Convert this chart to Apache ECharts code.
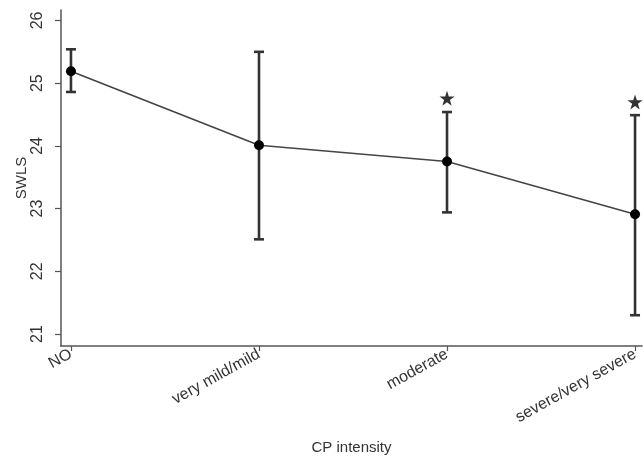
<!DOCTYPE html>
<html><head><meta charset="utf-8">
<script src="https://cdn.jsdelivr.net/npm/echarts@6/dist/echarts.min.js"></script>
<style>html,body{margin:0;padding:0;background:#fff}#c{width:644px;height:461px}</style>
</head><body><div id="c"></div>
<script>
const categories = ['NO', 'very mild/mild', 'moderate', 'severe/very severe'];
const means = [25.19, 24.01, 23.75, 22.91];
const lower = [24.86, 22.51, 22.94, 21.30];
const upper = [25.54, 25.50, 24.54, 24.49];
const starIdx = [2, 3];
const starY = [24.76, 24.70];
const yTicks = [21, 22, 23, 24, 25, 26];
const xTicks = [0, 1, 2, 3];

const font = 'Liberation Sans, Arial, Helvetica, sans-serif';
const starPath = 'path://M50,0 L61.8,35.3 L99,35.3 L69,57.1 L80.4,92.7 L50,70.7 L19.6,92.7 L31,57.1 L1,35.3 L38.2,35.3 Z';

const chart = echarts.init(document.getElementById('c'), null, {renderer: 'canvas'});
chart.setOption({
  animation: false,
  backgroundColor: '#fff',
  grid: {left: 61, right: 2, top: 10, bottom: 115},
  xAxis: {
    type: 'value', min: -0.053, max: 3.037,
    name: 'CP intensity', nameLocation: 'middle', nameGap: 94, nameMoveOverlap: false,
    nameTextStyle: {fontFamily: font, fontSize: 15, color: '#333'},
    axisLine: {show: true, onZero: false, lineStyle: {color: '#555', width: 1.5}},
    axisTick: {show: true, length: 5, lineStyle: {color: '#555', width: 1.2}, customValues: xTicks},
    axisLabel: {customValues: xTicks, rotate: 29, margin: 7, fontFamily: font, fontSize: 16, color: '#333',
      formatter: v => categories[Math.round(v)]},
    splitLine: {show: false}
  },
  yAxis: {
    type: 'value', min: 20.809, max: 26.167,
    name: 'SWLS', nameLocation: 'middle', nameGap: 32, nameRotate: 90, nameMoveOverlap: false,
    nameTextStyle: {fontFamily: font, fontSize: 15, color: '#333'},
    axisLine: {show: true, onZero: false, lineStyle: {color: '#555', width: 1.5}},
    axisTick: {show: true, length: 6, lineStyle: {color: '#555', width: 1.2}, customValues: yTicks},
    axisLabel: {customValues: yTicks, rotate: 90, margin: 15, fontFamily: font, fontSize: 16, color: '#333'},
    splitLine: {show: false}
  },
  series: [
    {
      type: 'custom',
      data: categories.map((c, i) => [i, lower[i], upper[i]]),
      renderItem: function (params, api) {
        const lo = api.coord([api.value(0), api.value(1)]);
        const hi = api.coord([api.value(0), api.value(2)]);
        const hw = 5;
        const style = {stroke: '#333', lineWidth: 2.6, fill: null};
        return {type: 'group', children: [
          {type: 'line', shape: {x1: hi[0], y1: hi[1], x2: lo[0], y2: lo[1]}, style},
          {type: 'line', shape: {x1: hi[0] - hw, y1: hi[1], x2: hi[0] + hw, y2: hi[1]}, style},
          {type: 'line', shape: {x1: lo[0] - hw, y1: lo[1], x2: lo[0] + hw, y2: lo[1]}, style}
        ]};
      },
      z: 2
    },
    {
      type: 'line',
      data: categories.map((c, i) => [i, means[i]]),
      symbol: 'circle', symbolSize: 10,
      lineStyle: {color: '#444', width: 1.6},
      itemStyle: {color: '#000'},
      z: 3
    },
    {
      type: 'scatter',
      data: starIdx.map((k, j) => [k, starY[j]]),
      symbol: starPath, symbolSize: 15,
      itemStyle: {color: '#000'},
      z: 4
    }
  ]
});
</script></body></html>
